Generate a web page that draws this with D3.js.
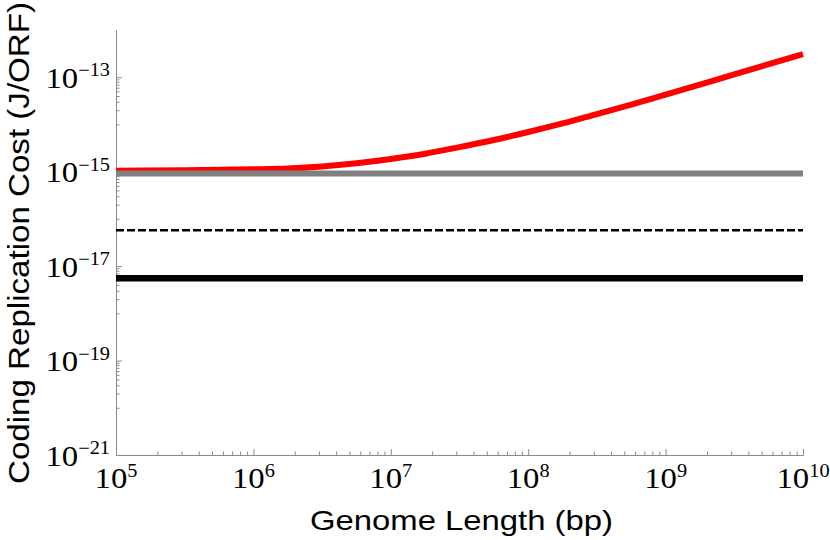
<!DOCTYPE html>
<html>
<head>
<meta charset="utf-8">
<script src="https://cdn.jsdelivr.net/npm/d3@7"></script>
<style>
  body { margin: 0; background: #fff; }
</style>
</head>
<body>
<svg id="chart" width="830" height="540"></svg>
<script>
// genome length (bp) and coding replication cost (J/ORF)
const genomeLength = [1e5, 3.16e5, 1e6, 1.78e6, 3.16e6, 5.62e6, 1e7, 1.78e7, 3.16e7, 5.62e7,
                      1e8, 1.78e8, 3.16e8, 5.62e8, 1e9, 3.16e9, 1e10];
const redCost      = [1.05e-15, 1.07e-15, 1.12e-15, 1.17e-15, 1.29e-15, 1.51e-15, 1.86e-15, 2.4e-15, 3.31e-15, 4.68e-15,
                      6.92e-15, 1.05e-14, 1.66e-14, 2.63e-14, 4.27e-14, 1.15e-13, 3.09e-13];

// flat lines span the whole x range
const flatEnds   = [1e5, 1e10];
const grayCost   = [9.1e-16, 9.1e-16];
const dashedCost = [5.75e-17, 5.75e-17];
const blackCost  = [5.5e-18, 5.5e-18];

// tick labels (powers of ten)
const xExponents = [5, 6, 7, 8, 9, 10];
const yExponents = [-13, -15, -17, -19, -21];

const svg = d3.select("#chart");

const x = d3.scaleLog()
    .domain([1e5, 1e10])
    .range([116, 803]);

const y = d3.scaleLog()
    .domain([1e-21, 1e-12])
    .range([455, 30]);

const axisColor = "#8a8a8a";

// minor ticks
let xMinor = [];
for (let e = 5; e < 10; e++) {
    for (let k = 2; k <= 9; k++) xMinor.push(k * Math.pow(10, e));
}
let yMinor = [];
yExponents.forEach(function(e) {
    if (e <= -21) return;
    for (let k = 1; k <= 9; k++) yMinor.push(k * Math.pow(10, e - 1));
});

function styleAxis(g) {
    g.select(".domain").attr("stroke", axisColor);
    g.selectAll(".tick line").attr("stroke", axisColor);
    g.selectAll(".tick text").remove();
}

// x axis
svg.append("g")
    .attr("transform", "translate(0,455)")
    .call(d3.axisBottom(x).tickValues(xMinor).tickSizeInner(-3.5).tickSizeOuter(0).tickFormat(""))
    .call(styleAxis);
svg.append("g")
    .attr("transform", "translate(0,455)")
    .call(d3.axisBottom(x).tickValues(xExponents.map(e => Math.pow(10, e))).tickSizeInner(-6).tickSizeOuter(0).tickFormat(""))
    .call(styleAxis);

// y axis
svg.append("g")
    .attr("transform", "translate(116,0)")
    .call(d3.axisLeft(y).tickValues(yMinor).tickSizeInner(-3.5).tickSizeOuter(0).tickFormat(""))
    .call(styleAxis);
svg.append("g")
    .attr("transform", "translate(116,0)")
    .call(d3.axisLeft(y).tickValues(yExponents.map(e => Math.pow(10, e))).tickSizeInner(-6).tickSizeOuter(0).tickFormat(""))
    .call(styleAxis);

function expText(e) {
    return e < 0 ? "\u2212" + Math.abs(e) : String(e);
}

// x tick labels
const xLab = svg.append("g")
    .attr("font-family", "'Liberation Serif', 'Times New Roman', serif")
    .attr("fill", "#000");
xExponents.forEach(function(e) {
    const t = xLab.append("text")
        .attr("transform", "translate(" + x(Math.pow(10, e)) + ",488) scale(1.13,1)")
        .attr("text-anchor", "middle");
    t.append("tspan").attr("font-size", 29).text("10");
    t.append("tspan").attr("font-size", 18).attr("dy", -11).text(expText(e));
});

// y tick labels
const yLab = svg.append("g")
    .attr("font-family", "'Liberation Serif', 'Times New Roman', serif")
    .attr("fill", "#000");
yExponents.forEach(function(e) {
    const t = yLab.append("text")
        .attr("transform", "translate(110," + (y(Math.pow(10, e)) + 10.5) + ") scale(1.13,1)")
        .attr("text-anchor", "end");
    t.append("tspan").attr("font-size", 29).text("10");
    t.append("tspan").attr("font-size", 18).attr("dy", -11.5).text(expText(e));
});

// lines
const flatLine = d3.line()
    .x(function(d, i) { return x(flatEnds[i]); })
    .y(function(d) { return y(d); });

const redLine = d3.line()
    .x(function(d, i) { return x(genomeLength[i]); })
    .y(function(d) { return y(d); })
    .curve(d3.curveMonotoneX);

svg.append("path")
    .datum(redCost)
    .attr("fill", "none")
    .attr("stroke", "#ff0000")
    .attr("stroke-width", 6)
    .attr("d", redLine);

svg.append("path")
    .datum(grayCost)
    .attr("fill", "none")
    .attr("stroke", "#808080")
    .attr("stroke-width", 6)
    .attr("d", flatLine);

svg.append("path")
    .datum(dashedCost)
    .attr("fill", "none")
    .attr("stroke", "#000")
    .attr("stroke-width", 2.6)
    .attr("stroke-dasharray", "8,3")
    .attr("d", flatLine);

svg.append("path")
    .datum(blackCost)
    .attr("fill", "none")
    .attr("stroke", "#000")
    .attr("stroke-width", 6.5)
    .attr("d", flatLine);

// axis titles
svg.append("text")
    .attr("x", 461.5)
    .attr("y", 530)
    .attr("text-anchor", "middle")
    .attr("font-family", "'Liberation Sans', Arial, sans-serif")
    .attr("font-size", 28)
    .attr("textLength", 303)
    .attr("lengthAdjust", "spacingAndGlyphs")
    .text("Genome Length (bp)");

svg.append("text")
    .attr("transform", "translate(29,243) rotate(-90)")
    .attr("text-anchor", "middle")
    .attr("font-family", "'Liberation Sans', Arial, sans-serif")
    .attr("font-size", 30)
    .attr("textLength", 482)
    .attr("lengthAdjust", "spacingAndGlyphs")
    .text("Coding Replication Cost (J/ORF)");
</script>
</body>
</html>
